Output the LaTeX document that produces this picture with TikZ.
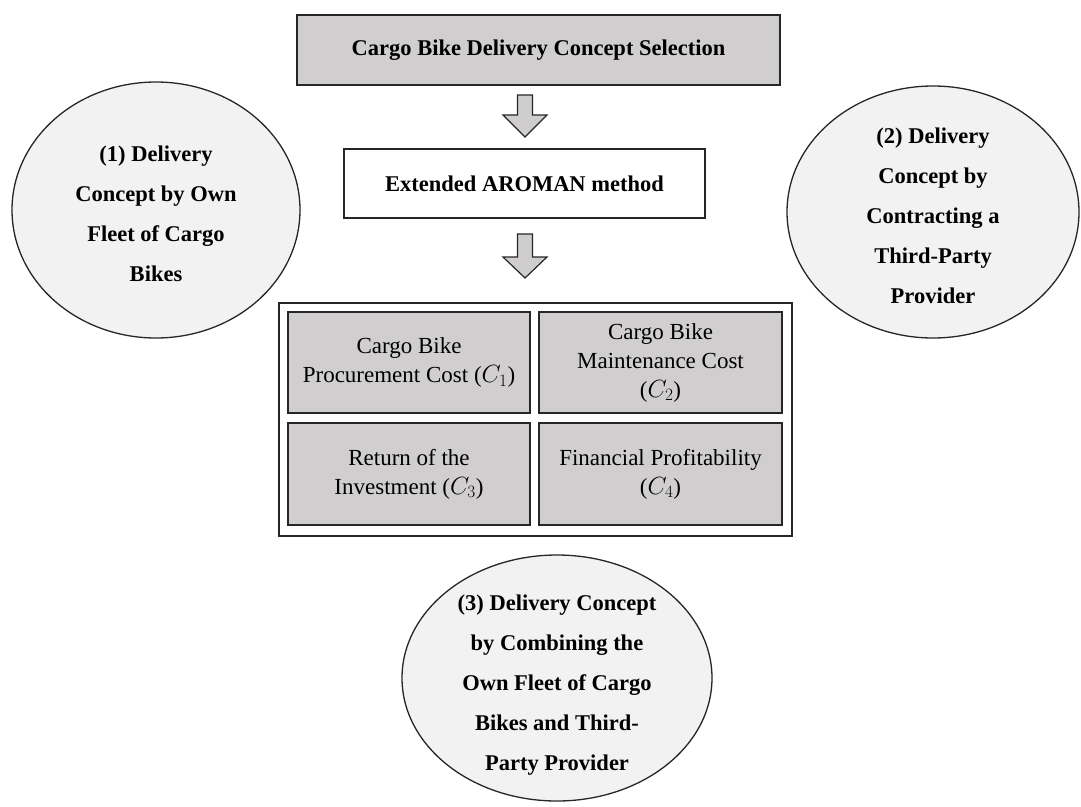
\documentclass[tikz,border=0pt]{standalone}
\usepackage{fontspec}
\setmainfont{Liberation Serif}
\usetikzlibrary{shapes.geometric,calc}
\definecolor{boxgray}{HTML}{D0CECE}
\definecolor{ellgray}{HTML}{F2F2F2}
\definecolor{arrgray}{HTML}{CFCDCD}
\definecolor{linecol}{HTML}{262626}
\tikzset{
  graybox/.style={draw=linecol, line width=1.5pt, fill=boxgray, inner sep=0pt},
  whitebox/.style={draw=linecol, line width=1.5pt, fill=white, inner sep=0pt},
  critbox/.style={draw=linecol, line width=1.5pt, fill=boxgray, inner sep=0pt, align=center,
    font=\fontsize{23}{29}\selectfont},
  oval/.style={ellipse, draw=linecol, line width=1.3pt, fill=ellgray, inner sep=0pt},
  ovaltext/.style={align=center, font=\bfseries\fontsize{22.5}{40}\selectfont, inner sep=0pt},
  blockarrow/.style={draw=linecol, line width=1.2pt, fill=arrgray, line join=miter}
}
\begin{document}
\begin{tikzpicture}[x=1pt,y=-1pt]
\useasboundingbox (0,0) rectangle (1081,806);

% top box
\node[graybox, minimum width=483pt, minimum height=70pt, font=\bfseries\fontsize{22.5}{27}\selectfont]
  (top) at (538.5,50) {Cargo Bike Delivery Concept Selection};
% method box
\node[whitebox, minimum width=361pt, minimum height=69pt, font=\bfseries\fontsize{22.5}{27}\selectfont]
  (meth) at (524.5,183.5) {Extended AROMAN method};

% outer frame of criteria
\node[draw=linecol, line width=2pt, fill=white, minimum width=513pt, minimum height=233pt, inner sep=0pt]
  (frame) at (535.5,419.5) {};

% criteria boxes
\node[critbox, minimum width=242pt, minimum height=101pt] (c1) at (409,362.5)
  {Cargo Bike\\Procurement Cost ($C_1$)};
\node[critbox, minimum width=243pt, minimum height=101pt] (c2) at (660.5,362.5)
  {Cargo Bike\\Maintenance Cost\\($C_2$)};
\node[critbox, minimum width=242pt, minimum height=102pt] (c3) at (409,474)
  {Return of the\\Investment ($C_3$)};
\node[critbox, minimum width=243pt, minimum height=102pt] (c4) at (660.5,474)
  {Financial Profitability\\($C_4$)};

% block arrows
\coordinate (a1) at (525,95);
\draw[blockarrow] ($(a1)+(-7.5,0)$) -- ($(a1)+(7.5,0)$) -- ($(a1)+(7.5,20)$) -- ($(a1)+(22,20)$)
  -- ($(a1)+(0,42)$) -- ($(a1)+(-22,20)$) -- ($(a1)+(-7.5,20)$) -- cycle;
\coordinate (a2) at (525,234);
\draw[blockarrow] ($(a2)+(-7.5,0)$) -- ($(a2)+(7.5,0)$) -- ($(a2)+(7.5,23)$) -- ($(a2)+(22,23)$)
  -- ($(a2)+(0,44)$) -- ($(a2)+(-22,23)$) -- ($(a2)+(-7.5,23)$) -- cycle;

% ellipses
\node[oval, minimum width=288pt, minimum height=256pt] (e1) at (156,210) {};
\node[ovaltext] (e1t) at (156,214) {(1) Delivery\\Concept by Own\\Fleet of Cargo\\Bikes};

\node[oval, minimum width=292pt, minimum height=252pt] (e2) at (933,212) {};
\node[ovaltext] (e2t) at (933,216) {(2) Delivery\\Concept by\\Contracting a\\Third-Party\\Provider};

\node[oval, minimum width=310pt, minimum height=246pt] (e3) at (557,678) {};
\node[ovaltext] (e3t) at (557,685) {(3) Delivery Concept\\by Combining the\\Own Fleet of Cargo\\Bikes and Third-\\Party Provider};
\end{tikzpicture}
\end{document}
